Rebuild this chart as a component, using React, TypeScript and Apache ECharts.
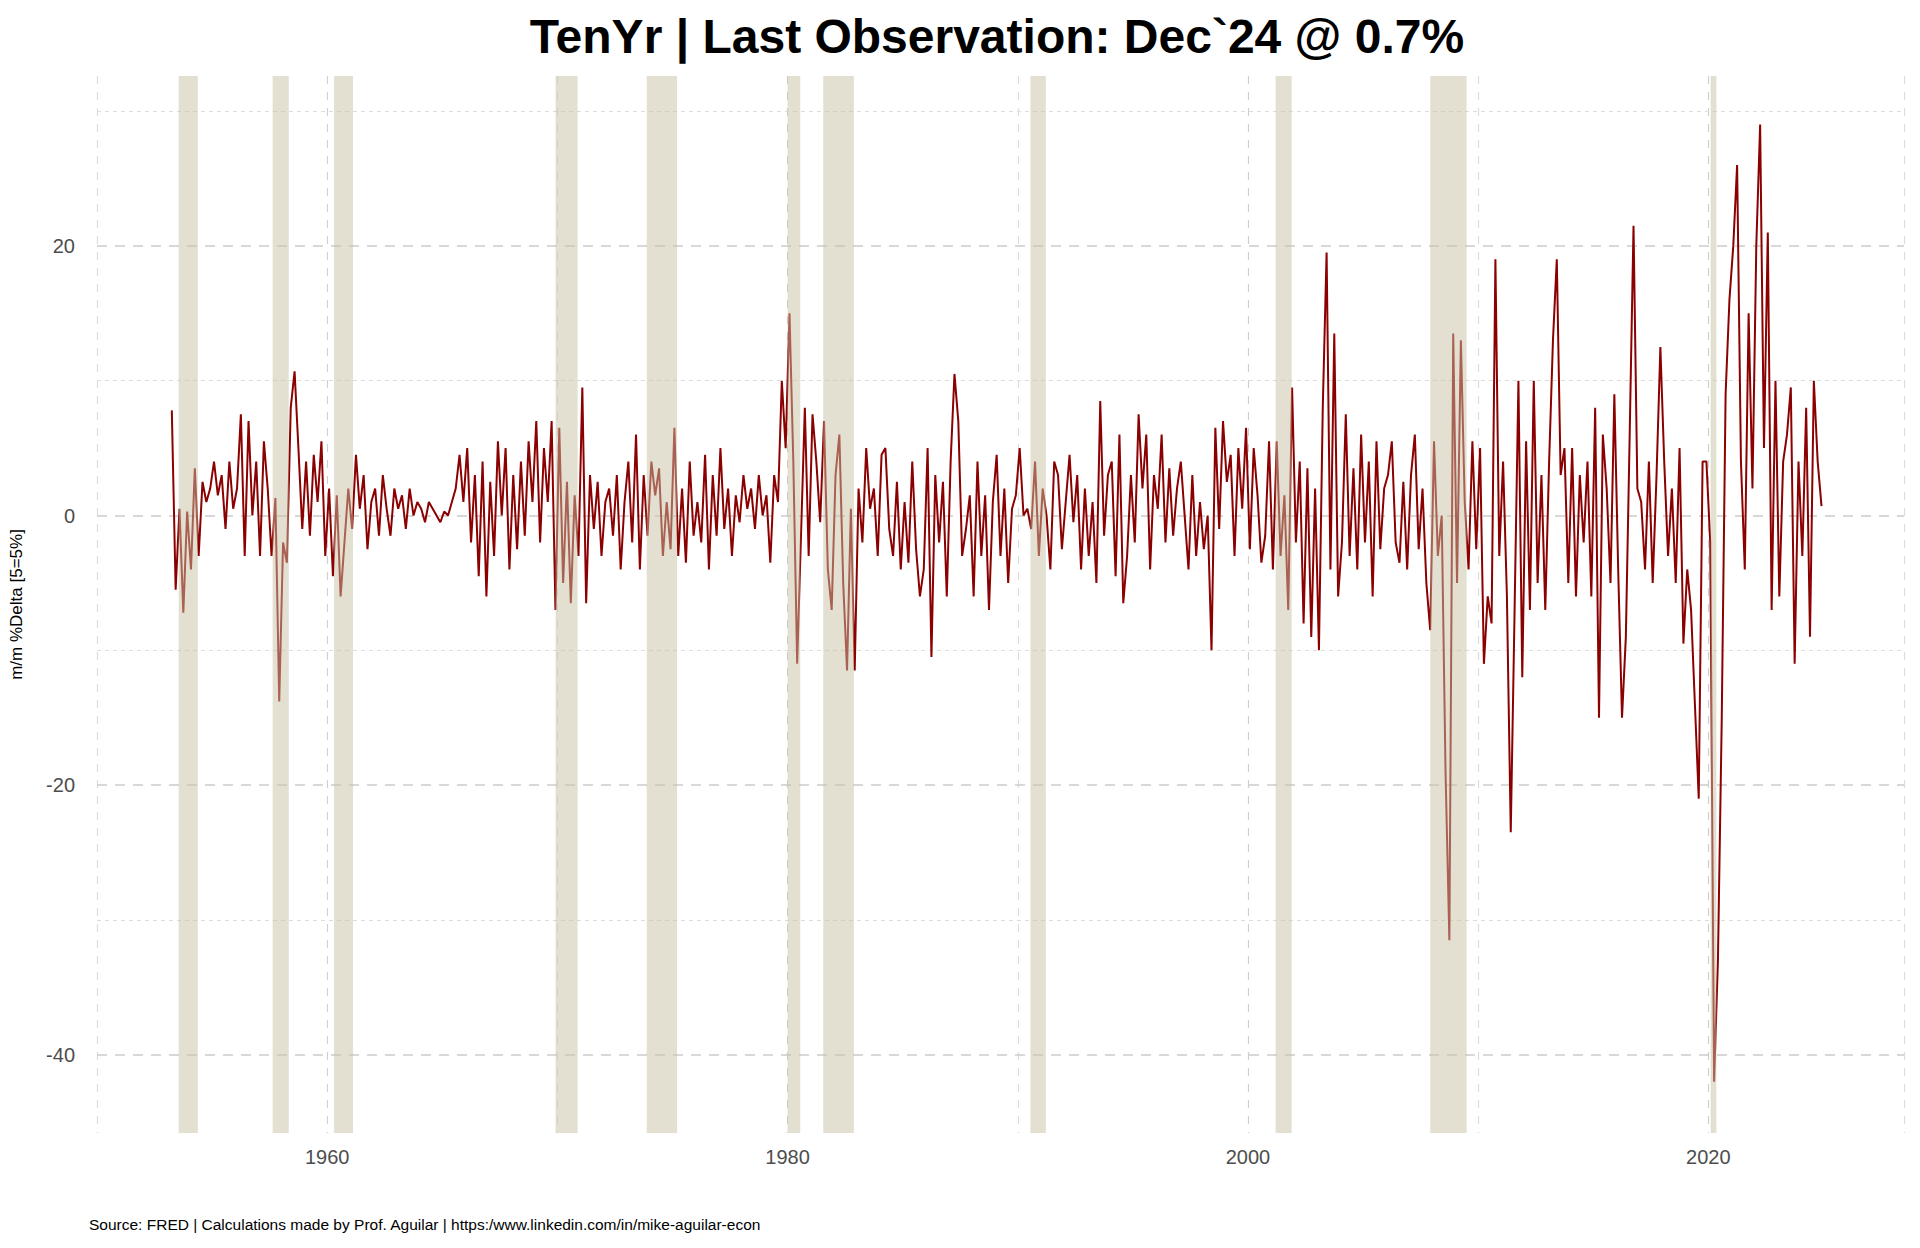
import React, { useEffect, useRef } from "react";
import * as echarts from "echarts";

// bi-monthly observations starting April 1953 (m/m % change of 10Y yield)
const START_YEAR = 1953;
const START_MONTH = 4;
const values: number[] = [
  7.8, -5.5, 0.5, -7.2, 0.3,
  -4, 3.5, -3, 2.5, 1, 2,
  4, 1.5, 3, -1, 4, 0.5,
  2, 7.5, -3, 7, 0, 4,
  -3, 5.5, 2, -3, 1.3, -13.8,
  -2, -3.5, 8, 10.7, 5, -1,
  4, -1.5, 4.5, 1, 5.5, -3,
  2, -4.5, 1.5, -6, -2, 2,
  -1, 4.5, 0.5, 3, -2.5, 1,
  2, -1.5, 3, 0.5, -1.5, 2,
  0.5, 1.5, -1, 2, 0, 1,
  0.5, -0.5, 1, 0.5, 0, -0.5,
  0.3, 0, 1, 2, 4.5, 1,
  5, -2, 3, -4.5, 4, -6,
  2.5, -3, 5.5, 0, 5, -4,
  3, -2.5, 4, -1.5, 5.5, 1,
  7, -2, 5, 1, 7, -7,
  6.5, -5, 2.5, -6.5, 1.5, -3,
  9.5, -6.5, 3, -1, 2.5, -3,
  1, 2, -1.5, 3, -4, 1,
  4, -2, 6, -4, 3, -1.5,
  4, 1.5, 3.5, -3, 1, -2.5,
  6.5, -3, 2, -3.5, 4, -1.5,
  1, -2, 4.5, -4, 3, -1.5,
  5, -1, 2, -3, 1.5, -0.5,
  3, 0.5, 2, -1, 3, 0,
  1.5, -3.5, 3, 1, 10, 5,
  15, 4, -11, -1.5, 8, -3,
  7.5, 4, -0.5, 7, -4, -7,
  3, 6, -5, -11.5, 0.5, -11.5,
  2, -2, 5, 0.5, 2, -3,
  4.5, 5, -1, -3, 2.5, -4,
  1, -3.5, 4, -2.5, -6, -4,
  5, -10.5, 3, -2, 2.5, -6,
  4, 10.5, 7, -3, -1, 1.5,
  -6, 4, -3, 1.5, -7, 1,
  4.5, -3, 2, -5, 0.5, 1.5,
  5, 0, 0.5, -1, 4, -3,
  2, 0, -4, 4, 3, -2.5,
  1, 4.5, -0.5, 3, -4, 2,
  -3, 1, -5, 8.5, -1.5, 3,
  4, -4.5, 6, -6.5, -3, 3,
  -2, 7.5, 2, 6, -4, 3,
  0.5, 6, -2, 3.5, -1.5, 2,
  4, 0, -4, 3, -3, 1,
  -2.5, 0, -10, 6.5, -1, 7,
  2.5, 4.5, -3, 5, 0.5, 6.5,
  -2.5, 5, 1.5, -3.5, -1.5, 5.5,
  -4, 5.5, -3, 1.5, -7, 9.5,
  -2, 4, -8, 3.5, -9, 2,
  -10, 8, 19.5, -4, 13.5, -6,
  -2, 7.5, -3, 3.5, -4, 6,
  -2, 4, -6, 5.5, -2.5, 2,
  3, 5.5, -2, -3.5, 2.5, -4,
  3, 6, -2.5, 2, -5, -8.5,
  5.5, -3, 0, -19, -31.5, 13.5,
  -5, 13, 1, -4, 5.5, -2.5,
  5, -11, -6, -8, 19, -3,
  4, -6, -23.5, -7, 10, -12,
  5.5, -7, 10, -5, 3, -7,
  4, 13, 19, 3, 5, -5,
  5, -6, 3, -2, 4, -6,
  8, -15, 6, 2, -5, 9,
  -4, -15, -9, 6, 21.5, 2,
  1, -4, 4, -5, 3, 12.5,
  4, -3, 2, -5, 5, -9.5,
  -4, -7, -14, -21, 4, 4,
  -2, -42, -33, -15, 9, 16,
  20, 26, 4, -4, 15, 2,
  20, 29, 5, 21, -7, 10,
  -6, 4, 6, 9.5, -11, 4,
  -3, 8, -9, 10, 4, 0.7,
];

const recessions: [number, number][] = [
  [1953.55, 1954.38], [1957.63, 1958.33], [1960.3, 1961.12], [1969.92, 1970.88],
  [1973.88, 1975.2], [1980.0, 1980.55], [1981.55, 1982.88], [1990.55, 1991.22],
  [2001.2, 2001.9], [2007.92, 2009.5], [2020.1, 2020.35],
];
const yMajor = [20, 0, -20, -40];
const yMinor = [30, 10, -10, -30];
const xMajor = [1960, 1980, 2000, 2020];
const Y_MIN = -45.8;
const Y_MAX = 32.6;

const TITLE = "TenYr | Last Observation: Dec`24 @ 0.7%";
const Y_NAME = "m/m %Delta [5=5%]";
const CAPTION = "Source: FRED | Calculations made by Prof. Aguilar | https:/www.linkedin.com/in/mike-aguilar-econ";

export default function App() {
  const ref = useRef<HTMLDivElement>(null);
  useEffect(() => {
    document.body.style.margin = "0";
    const chart = echarts.init(ref.current!, null, { renderer: "svg" });
    const data = values.map((v, i) => [START_YEAR + (START_MONTH - 1 + i * 2) / 12, v]);
    const font = "Liberation Sans, Arial, sans-serif";
    chart.setOption({
      animation: false,
      backgroundColor: "#fff",
      graphic: [
        {
          type: "text", x: 997, y: 36,
          style: { text: TITLE, fontFamily: font, fontWeight: "bold", fontSize: 48, fill: "#000", align: "center", verticalAlign: "middle" },
        },
        { type: "text", left: 89, top: 1216, style: { text: CAPTION, fontFamily: font, fontSize: 15.5, fill: "#000" } },
      ],
      grid: { left: 97, right: 16, top: 76, bottom: 115 },
      xAxis: {
        type: "value", min: 1950, max: 2028.5, interval: 10,
        axisLine: { show: false }, axisTick: { show: false },
        axisLabel: {
          fontFamily: font, fontSize: 20, color: "#4d4d4d", margin: 14,
          formatter: (v: number) => (xMajor.includes(v) ? String(v) : ""),
        },
        splitLine: { show: true, lineStyle: { type: [8, 8], width: 1.2, color: ["#dcdcdc", "#cfcfcf"] } },
      },
      yAxis: {
        type: "value", min: Y_MIN, max: Y_MAX,
        name: Y_NAME, nameLocation: "middle", nameGap: 72, nameRotate: 90,
        nameTextStyle: { fontFamily: font, fontSize: 17, color: "#000" },
        axisLine: { show: false }, axisTick: { show: false },
        splitLine: { show: false },
        axisLabel: { fontFamily: font, fontSize: 20, color: "#4d4d4d", margin: 22, customValues: yMajor },
      },
      series: [
        {
          type: "line", data, showSymbol: false, z: 2,
          lineStyle: { color: "#8B0000", width: 2 },
          markLine: {
            silent: true, symbol: "none", label: { show: false }, z: 0,
            data: [
              ...yMajor.map((y) => ({ yAxis: y, lineStyle: { color: "#cccccc", type: [10, 8], width: 1.6 } })),
              ...yMinor.map((y) => ({ yAxis: y, lineStyle: { color: "#dddddd", type: [4, 4], width: 1.2 } })),
            ],
          },
        },
        {
          type: "custom", z: 10, silent: true,
          data: recessions,
          renderItem: (params: any, api: any) => {
            const p0 = api.coord([api.value(0), Y_MAX]);
            const p1 = api.coord([api.value(1), Y_MIN]);
            return {
              type: "rect",
              shape: { x: p0[0], y: p0[1], width: p1[0] - p0[0], height: p1[1] - p0[1] },
              style: { fill: "rgba(200,193,165,0.5)" },
            };
          },
        },
      ],
    });
    return () => chart.dispose();
  }, []);
  return <div ref={ref} style={{ width: 1920, height: 1248 }} />;
}
